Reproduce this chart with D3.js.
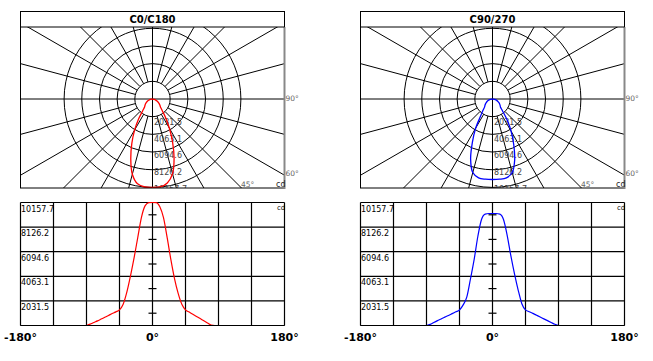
<!DOCTYPE html>
<html>
<head>
<meta charset="utf-8">
<script src="https://cdn.jsdelivr.net/npm/d3@7"></script>
<style>
  body{margin:0;background:#fff;}
  svg{display:block;font-family:"DejaVu Sans",Verdana,sans-serif;}
</style>
</head>
<body>
<div class="chart"></div>
<script>
// gamma angles (deg), negative side = C180 / C270
var angles = [-90,-85,-80,-75,-70,-65,-60,-55,-50,-45,-40,-35,-30,-25,-20,-15,-10,-5,0,
  5,10,15,20,25,30,35,40,45,50,55,60,65,70,75,80,85,90];
var c0c180 = [0,110,250,380,530,680,830,990,1125,1290,1750,2750,4100,5620,7300,8950,9900,10150,10157.7,
  10150,9800,8900,7250,5460,3880,2650,1750,1290,1110,930,750,570,390,210,30,0,0];
var c90c270 = [0,90,250,400,540,690,830,980,1130,1280,1700,2360,3860,5460,7350,8750,9200,9250,9250,
  9250,9200,8750,7450,5770,4270,2930,1800,1290,1140,1000,850,700,550,400,250,100,0];
var valueTicks = [2031.5,4063.1,6094.6,8126.2,10157.7];
var xTicks = [-180,-135,-90,-45,0,45,90,135,180];
var xTickLabels = ["-180°","0°","180°"];
var planeTitles = ["C0/C180","C90/270"];
var planeColors = ["#ff0000","#0000ff"];
var angleLabels = ["90°","60°","45°"];

var svg=d3.select(".chart").append("svg")
  .attr("width", 653)
  .attr("height", 361);

function drawPanel(ox, title, vals, color, idx){
  var g=svg.append("g").attr("transform","translate("+ox+",0)");
  var pts=angles.map(function(a,i){return {a:a, v:vals[i]};});
  var vmax=valueTicks[valueTicks.length-1];

  // ---- polar diagram ----
  var left=20.5, right=284.5, top=11.5, bar=27, bottom=188;
  var cx=152.5, cy=99;
  var rs=d3.scaleLinear().domain([0,vmax]).range([0,88.4]);

  g.append("clipPath").attr("id","clip"+idx)
    .append("rect").attr("x",left).attr("y",bar).attr("width",right-left).attr("height",bottom-bar);

  var grid=g.append("g").attr("clip-path","url(#clip"+idx+")")
    .attr("stroke","#000").attr("stroke-width",1).attr("fill","none");

  grid.selectAll("circle").data(valueTicks).enter().append("circle")
    .attr("cx",cx).attr("cy",cy).attr("r",function(d){return rs(d)});

  // spokes every 15 deg, starting at the first ring
  grid.selectAll(".spoke").data(d3.range(0,360,15).filter(function(d){return d%90!=0})).enter()
    .append("line").attr("class","spoke")
    .attr("x1",function(d){return cx+rs(valueTicks[0])*Math.sin(d*Math.PI/180)})
    .attr("y1",function(d){return cy+rs(valueTicks[0])*Math.cos(d*Math.PI/180)})
    .attr("x2",function(d){return cx+400*Math.sin(d*Math.PI/180)})
    .attr("y2",function(d){return cy+400*Math.cos(d*Math.PI/180)});
  grid.append("line").attr("x1",left).attr("x2",right).attr("y1",cy).attr("y2",cy);
  grid.append("line").attr("x1",cx).attr("x2",cx).attr("y1",bar).attr("y2",bottom);

  // ring labels (last one gets cut by the frame)
  g.append("g").attr("clip-path","url(#clip"+idx+")")
    .selectAll(".rlab").data(valueTicks).enter().append("text")
    .attr("class","rlab")
    .attr("x",cx+1.5).attr("y",function(d){return cy+rs(d)*0.95+9})
    .attr("font-size","8px").attr("fill","#444")
    .text(function(d){return d.toFixed(1)});

  var radial=d3.lineRadial()
    .angle(function(d){return Math.PI-d.a*Math.PI/180})
    .radius(function(d){return rs(d.v)})
    .curve(d3.curveCatmullRom);
  g.append("path")
    .attr("transform","translate("+cx+","+cy+")")
    .attr("d",radial(pts))
    .attr("fill","none").attr("stroke",color).attr("stroke-width",1.3);

  // frame + title bar
  g.append("rect").attr("x",left).attr("y",top).attr("width",right-left).attr("height",bottom-top)
    .attr("fill","none").attr("stroke","#000");
  g.append("line").attr("x1",right).attr("x2",right).attr("y1",bar).attr("y2",bottom+1)
    .attr("stroke","#888").attr("stroke-width",2);
  g.append("line").attr("x1",left).attr("x2",right).attr("y1",bar).attr("y2",bar).attr("stroke","#000");
  g.append("text").attr("x",cx).attr("y",23).attr("text-anchor","middle")
    .attr("font-size","10px").attr("font-weight","bold").text(title);

  g.append("text").attr("x",right+1).attr("y",cy+2).attr("font-size","7.5px").attr("fill","#666").text(angleLabels[0]);
  g.append("text").attr("x",right+1).attr("y",175.5).attr("font-size","7.5px").attr("fill","#666").text(angleLabels[1]);
  g.append("text").attr("x",241).attr("y",187).attr("font-size","7.5px").attr("fill","#666").text(angleLabels[2]);
  g.append("text").attr("x",276).attr("y",187).attr("font-size","8px").attr("fill","#222").text("cd");

  // ---- cartesian diagram ----
  var x=d3.scaleLinear().domain([-180,180]).range([20.5,284.5]);
  var y=d3.scaleLinear().domain([0,vmax]).range([325.5,202.5]);

  var cg=g.append("g").attr("stroke","#000").attr("stroke-width",1.2);
  cg.selectAll(".vl").data(xTicks).enter().append("line").attr("class","vl")
    .attr("x1",function(d){return x(d)}).attr("x2",function(d){return x(d)})
    .attr("y1",y(0)).attr("y2",y(vmax));
  cg.selectAll(".hl").data([0].concat(valueTicks)).enter().append("line").attr("class","hl")
    .attr("x1",x(-180)).attr("x2",x(180))
    .attr("y1",function(d){return y(d)}).attr("y2",function(d){return y(d)});

  // small ticks on the 0 deg axis, half way between the grid values
  var mids=valueTicks.map(function(d,i){return (d+(i?valueTicks[i-1]:0))/2});
  cg.selectAll(".tk").data(mids).enter().append("line").attr("class","tk")
    .attr("x1",x(0)-4).attr("x2",x(0)+4)
    .attr("y1",function(d){return y(d)}).attr("y2",function(d){return y(d)});

  g.selectAll(".ylab").data(valueTicks).enter().append("text").attr("class","ylab")
    .attr("x",21).attr("y",function(d){return y(d)+9})
    .attr("font-size","8px").attr("fill","#000")
    .text(function(d){return d.toFixed(1)});
  g.append("text").attr("x",277).attr("y",210).attr("font-size","7px").text("cd");

  var line=d3.line()
    .x(function(d){return x(d.a)})
    .y(function(d){return y(d.v)})
    .curve(d3.curveMonotoneX);
  g.append("path").attr("d",line(pts))
    .attr("fill","none").attr("stroke",color).attr("stroke-width",1.2);
  g.append("line").attr("x1",x(-180)).attr("x2",x(180)).attr("y1",y(0)).attr("y2",y(0))
    .attr("stroke","#000").attr("stroke-width",1.2);

  g.selectAll(".xlab").data([-180,0,180]).enter().append("text").attr("class","xlab")
    .attr("x",function(d){return x(d)}).attr("y",341)
    .attr("text-anchor","middle").attr("font-size","11px").attr("font-weight","bold")
    .text(function(d,i){return xTickLabels[i]});
}

drawPanel(0, planeTitles[0], c0c180, planeColors[0], 0);
drawPanel(340, planeTitles[1], c90c270, planeColors[1], 1);
</script>
</body>
</html>
